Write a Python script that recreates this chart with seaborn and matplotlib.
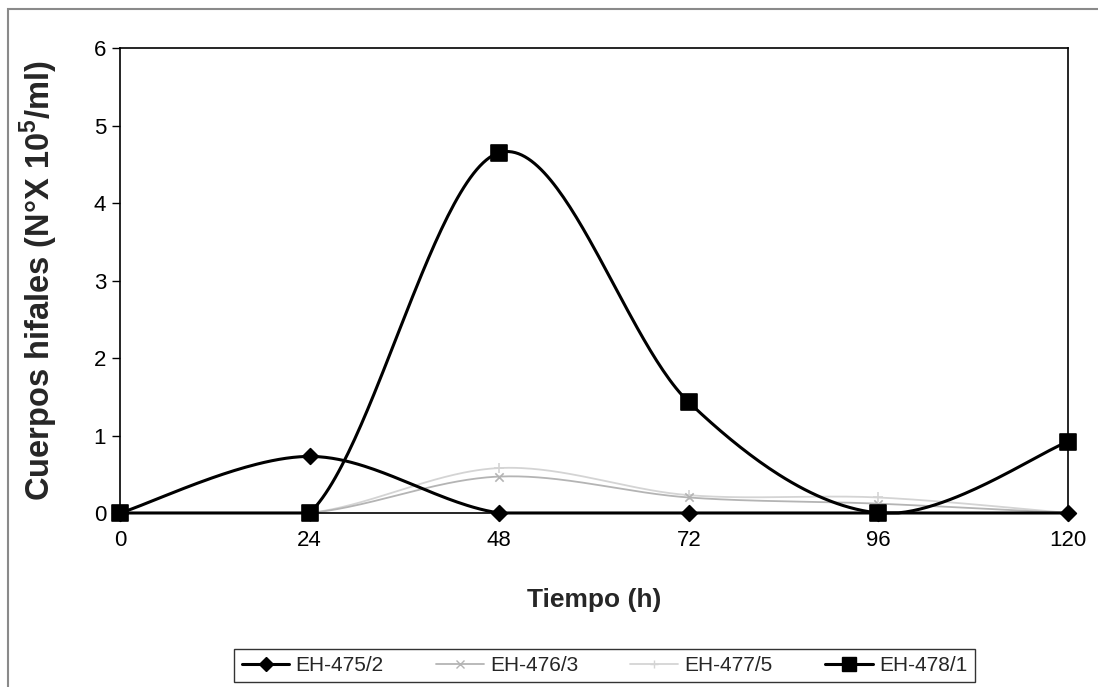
import numpy as np
import pandas as pd
import matplotlib
matplotlib.use("Agg")
import matplotlib.pyplot as plt
from matplotlib.patches import Rectangle
from matplotlib.lines import Line2D
import seaborn as sns

# Sampling times (h)
tiempo = [0, 24, 48, 72, 96, 120]

# Hyphal bodies per strain (N° x 10^5 / ml)
eh_475_2 = [0.0, 0.73, 0.0, 0.0, 0.0, 0.0]
eh_476_3 = [0.0, 0.0, 0.47, 0.20, 0.12, 0.0]
eh_477_5 = [0.0, 0.0, 0.58, 0.23, 0.20, 0.0]
eh_478_1 = [0.0, 0.0, 4.65, 1.43, 0.0, 0.92]

cepas = ["EH-475/2", "EH-476/3", "EH-477/5", "EH-478/1"]
valores = [eh_475_2, eh_476_3, eh_477_5, eh_478_1]

sns.set_theme(style="white")
plt.rcParams["font.family"] = ["Liberation Sans", "DejaVu Sans"]
plt.rcParams["mathtext.fontset"] = "custom"
plt.rcParams["mathtext.rm"] = "Liberation Sans:bold"
plt.rcParams["mathtext.bf"] = "Liberation Sans:bold"


def smooth(x, y, n=60):
    """Cardinal spline through the points (smoothed line); parts below the
    axis floor are held at zero, as the plot area cuts them off."""
    x = np.asarray(x, float)
    y = np.asarray(y, float)
    px = np.concatenate([[x[0]], x, [x[-1]]])
    py = np.concatenate([[y[0]], y, [y[-1]]])
    xs, ys = [], []
    for i in range(1, len(px) - 2):
        p0 = np.array([px[i - 1], py[i - 1]])
        p1 = np.array([px[i], py[i]])
        p2 = np.array([px[i + 1], py[i + 1]])
        p3 = np.array([px[i + 2], py[i + 2]])
        c1 = p1 + (p2 - p0) / 6.0
        c2 = p2 - (p3 - p1) / 6.0
        t = np.linspace(0, 1, n)[:, None]
        b = ((1 - t) ** 3) * p1 + 3 * ((1 - t) ** 2) * t * c1 + 3 * (1 - t) * t ** 2 * c2 + t ** 3 * p2
        xs.append(b[:, 0])
        ys.append(b[:, 1])
    return np.concatenate(xs), np.maximum(np.concatenate(ys), 0.0)


estilos = {
    "EH-475/2": dict(color="black", marker="D", ms=8, lw=2.2),
    "EH-476/3": dict(color="#b4b4b4", marker="x", ms=6, lw=1.3),
    "EH-477/5": dict(color="#d4d4d4", marker="+", ms=7, lw=1.3),
    "EH-478/1": dict(color="black", marker="s", ms=11, lw=2.2),
}

fig = plt.figure(figsize=(10.98, 6.87), dpi=100)
ax = fig.add_axes([0.1093, 0.2533, 0.8634, 0.6767])

# Lighter series first so the black ones sit on top
orden = ["EH-477/5", "EH-476/3", "EH-475/2", "EH-478/1"]
for nombre in orden:
    vals = valores[cepas.index(nombre)]
    st = estilos[nombre]
    sx, sy = smooth(tiempo, vals)
    curva = pd.DataFrame({"t": sx, "v": sy})
    sns.lineplot(data=curva, x="t", y="v", ax=ax, color=st["color"], lw=st["lw"],
                 sort=False, estimator=None, clip_on=False)
    puntos = pd.DataFrame({"t": tiempo, "v": vals})
    sns.scatterplot(data=puntos, x="t", y="v", ax=ax, color=st["color"], marker=st["marker"],
                    s=st["ms"] ** 2, edgecolor=st["color"], linewidth=1.2, clip_on=False, zorder=5)

ax.set_xlim(0, 120)
ax.set_ylim(0, 6)
ax.set_xticks(tiempo)
ax.set_yticks(range(0, 7))
ax.tick_params(axis="both", which="both", direction="out", length=6, width=1,
               color="black", labelsize=16, labelcolor="black", bottom=True, left=True)
ax.tick_params(axis="y", pad=4)
ax.tick_params(axis="x", pad=6)
for s in ax.spines.values():
    s.set_color("black")
    s.set_linewidth(1.2)

ax.set_xlabel("Tiempo (h)", fontsize=19, fontweight="bold", labelpad=27)
ax.set_ylabel(r"Cuerpos hifales (N°X 10$^{5}$/ml)", fontsize=23.5, fontweight="bold", labelpad=24)

handles = [Line2D([0], [0], color=estilos[c]["color"], lw=estilos[c]["lw"],
                  marker=estilos[c]["marker"], ms=estilos[c]["ms"] * 0.9,
                  markeredgecolor=estilos[c]["color"]) for c in cepas]
leg = fig.legend(handles, cepas, loc="center", bbox_to_anchor=(0.5505, 0.031), ncol=4,
                 frameon=True, fancybox=False, fontsize=15, handlelength=2.3,
                 columnspacing=2.5, handletextpad=0.3, borderpad=0.35)
leg.get_frame().set_edgecolor("black")
leg.get_frame().set_linewidth(1.0)

# Outer chart frame
fig.patches.append(Rectangle((0.0075, -0.1), 1.1, 1.0869, transform=fig.transFigure,
                             fill=False, edgecolor="#8a8a8a", lw=1.5))

fig.savefig("out.png", dpi=100)
